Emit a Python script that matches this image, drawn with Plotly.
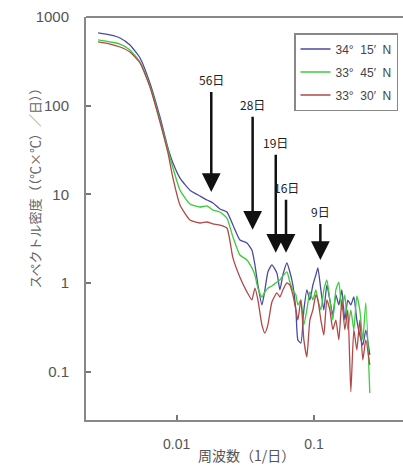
import math
import plotly.graph_objects as go

# Frequency grid (1/day)
freq = [0.00268, 0.00327, 0.00387, 0.00457, 0.00541, 0.00639, 0.00756, 0.00864, 0.00940,
        0.01057, 0.0125, 0.01477, 0.01661, 0.01837, 0.02065, 0.02322, 0.02567, 0.02886,
        0.03245, 0.03528, 0.03711, 0.03902, 0.04173, 0.04387, 0.04613, 0.04933, 0.05364,
        0.05640, 0.05930, 0.06342, 0.06668, 0.07012, 0.07373, 0.07625, 0.08017, 0.08430,
        0.08864, 0.09322, 0.09802, 0.1031, 0.1066, 0.1121, 0.1178, 0.1239, 0.1303, 0.1370,
        0.1441, 0.1515, 0.1593, 0.1675, 0.1761, 0.1852, 0.1948, 0.2048, 0.2153, 0.2264,
        0.2380, 0.2545]

# Spectral density ((degC x degC)/day)
n34_15 = [661, 627, 580, 483, 345, 180, 74.6, 33.4, 22.6, 15.3, 11.2, 9.62, 8.67, 8.02,
          6.87, 6.35, 4.53, 3.07, 2.84, 2.37, 1.61, 0.955, 0.569, 0.839, 1.34, 1.61, 1.30,
          0.84, 1.24, 1.69, 1.34, 0.955, 0.50, 0.23, 0.212, 0.50, 0.84, 0.647, 0.955, 1.24,
          1.49, 0.84, 0.50, 0.955, 0.647, 0.44, 0.74, 0.57, 0.84, 0.385, 0.647, 0.569, 0.70,
          0.385, 0.261, 0.20, 0.297, 0.156]
n33_45 = [551, 523, 496, 425, 311, 167, 69, 31.7, 19.9, 11.2, 7.82, 7.23, 7.42, 6.68,
          6.35, 5.43, 3.32, 2.08, 1.83, 1.49, 1.24, 0.88, 0.70, 0.80, 0.88, 0.93, 1.03,
          1.09, 1.21, 1.34, 1.03, 0.84, 0.74, 0.57, 0.65, 0.34, 0.50, 0.80, 0.65, 0.84,
          0.65, 0.50, 0.84, 1.09, 0.65, 0.385, 0.84, 1.03, 0.50, 0.74, 0.30, 0.50, 0.30,
          0.72, 0.50, 0.23, 0.60, 0.058]
n33_30 = [523, 496, 459, 403, 303, 163, 65.6, 29.4, 15.3, 7.62, 5.16, 4.77, 4.90, 4.66,
          4.53, 4.19, 1.93, 1.17, 0.80, 0.65, 0.88, 0.65, 0.34, 0.275, 0.34, 0.615, 0.78,
          0.70, 0.84, 1.01, 0.955, 0.74, 0.50, 0.385, 0.65, 0.23, 0.148, 0.385, 0.50, 0.74,
          0.65, 0.385, 0.26, 0.65, 0.50, 0.30, 0.385, 0.23, 0.65, 0.30, 0.50, 0.060, 0.30,
          0.177, 0.385, 0.137, 0.23, 0.12]

series_names = ["34°  15′  N", "33°  45′  N", "33°  30′  N"]
series_colors = ["#4a4aa0", "#3ccc3c", "#b04848"]

# Arrow annotations: period (days) and spectral value at arrow tip
periods = [56, 28, 19, 16, 9]
period_labels = ["56日", "28日", "19日", "16日", "9日"]
arrow_tip = [10.7, 4.0, 2.2, 2.2, 1.83]
arrow_len_px = [112, 125, 110, 65, 48]

y_ticks = [0.1, 1, 10, 100, 1000]
y_ticktext = ["0.1", "1", "10", "100", "1000"]
x_ticks = [0.01, 0.1]
x_ticktext = ["0.01", "0.1"]

FONT = "Arial, Liberation Sans, Noto Sans CJK JP, sans-serif"
JFONT = "Noto Sans CJK JP, Arial, sans-serif"

W, H = 403, 475
ML, MR, MT, MB = 86, 0, 17, 55
plot_w = W - ML - MR
plot_h = H - MT - MB

fig = go.Figure()
for i, (vals, name, col) in enumerate(zip([n34_15, n33_45, n33_30], series_names, series_colors)):
    fig.add_trace(go.Scatter(x=freq, y=vals, mode="lines", name=name,
                             legendgroup="g%d" % i,
                             line=dict(color=col, width=1.3, shape="spline", smoothing=0.5)))

for p, lab, tip, L in zip(periods, period_labels, arrow_tip, arrow_len_px):
    fig.add_annotation(
        x=math.log10(1.0 / p), y=math.log10(tip), xref="x", yref="y",
        text=lab, showarrow=True, ax=0, ay=-L, axref="pixel", ayref="pixel",
        arrowhead=2, arrowsize=1.5, arrowwidth=2.5, arrowcolor="#111",
        font=dict(family=JFONT, size=12, color="#222"), standoff=0, startstandoff=2,
    )

fig.add_annotation(text="スペクトル密度（（℃×℃）／日））", textangle=-90,
                   x=(22 - ML) / plot_w, y=(H - MB - 185) / plot_h,
                   xref="paper", yref="paper", showarrow=False,
                   font=dict(family=JFONT, size=13, color="#666"))
fig.add_annotation(text="周波数（1/日）",
                   x=(247 - ML) / plot_w, y=(H - MB - 467) / plot_h,
                   xref="paper", yref="paper", showarrow=False,
                   font=dict(family=JFONT, size=14, color="#555"))

fig.update_layout(
    width=W, height=H,
    margin=dict(l=ML, r=MR, t=MT, b=MB, autoexpand=False),
    paper_bgcolor="white", plot_bgcolor="white",
    font=dict(family=FONT, size=14, color="#555"),
    showlegend=True,
    legend=dict(x=(398 - ML) / plot_w, y=(H - MB - 33) / plot_h,
                xanchor="right", yanchor="top",
                bordercolor="#888", borderwidth=1.5, bgcolor="white",
                font=dict(family=FONT, size=12, color="#444"),
                tracegroupgap=4),
    xaxis=dict(type="log", range=[-2.66, math.log10(0.444)],
               tickvals=x_ticks, ticktext=x_ticktext,
               ticks="inside", ticklen=5, tickcolor="#777", tickwidth=1.5,
               showline=True, linecolor="#888", linewidth=2,
               showgrid=False, zeroline=False, ticklabelstandoff=10,
               tickfont=dict(family=FONT, size=14, color="#555")),
    yaxis=dict(type="log", range=[-1.541, 3],
               tickvals=y_ticks, ticktext=y_ticktext,
               ticks="inside", ticklen=5, tickcolor="#777", tickwidth=1.5,
               showline=True, linecolor="#888", linewidth=2,
               showgrid=False, zeroline=False, ticklabelstandoff=12,
               tickfont=dict(family=FONT, size=15, color="#555")),
    shapes=[dict(type="line", xref="paper", yref="paper", x0=0, x1=1, y0=1, y1=1,
                 line=dict(color="#888", width=2))],
)

fig.write_html("out.html", config={"displayModeBar": False},
               post_script="document.body.style.margin='0';document.body.style.overflow='hidden';")
